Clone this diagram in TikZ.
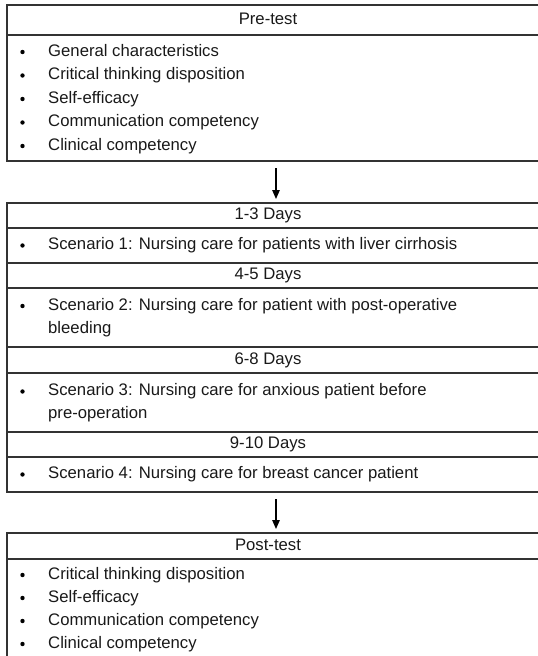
\documentclass[tikz,border=0pt]{standalone}
\usepackage{fontspec}
\setmainfont{Liberation Sans}
\usetikzlibrary{arrows.meta, positioning}
\definecolor{ruleGray}{HTML}{333333}

\begin{document}
\begin{tikzpicture}[x=1pt, y=-1pt,
  rule/.style={line width=1.2pt, draw=ruleGray},
  head/.style={font=\fontsize{16.7}{19}\selectfont, text=black!90, inner sep=0pt, text height=11.5pt, text depth=3pt},
  item/.style={head, anchor=west},
  bullet/.style={circle, fill=black, inner sep=0pt, minimum size=4.4pt},
  arrow/.style={-{Triangle[length=9pt, width=7.5pt]}, line width=1.3pt, draw=black}
]
  \useasboundingbox (0,0) rectangle (538,656);

  % Pre-test box
  \draw[rule] (538,5) -- (7,5) -- (7,161) -- (538,161);
  \draw[rule] (7,35) -- (538,35);
  \node[head] (pre) at (268,20) {Pre-test};
  \node[bullet] (b11) at (22.5,52) {};
  \node[item] (pre1) at (48,52) {General characteristics};
  \node[bullet] (b12) at (22.5,75.5) {};
  \node[item] (pre2) at (48,75.5) {Critical thinking disposition};
  \node[bullet] (b13) at (22.5,99) {};
  \node[item] (pre3) at (48,99) {Self-efficacy};
  \node[bullet] (b14) at (22.5,122.5) {};
  \node[item] (pre4) at (48,122.5) {Communication competency};
  \node[bullet] (b15) at (22.5,146) {};
  \node[item] (pre5) at (48,146) {Clinical competency};
  \coordinate (pre-south) at (276,161);

  % Intervention box
  \coordinate (days-north) at (276,203);
  \draw[rule] (538,203) -- (7,203) -- (7,492) -- (538,492);
  \draw[rule] (7,228) -- (538,228);
  \draw[rule] (7,263) -- (538,263);
  \draw[rule] (7,288) -- (538,288);
  \draw[rule] (7,347) -- (538,347);
  \draw[rule] (7,373) -- (538,373);
  \draw[rule] (7,432) -- (538,432);
  \draw[rule] (7,457) -- (538,457);
  \node[head] (day1) at (268,215.5) {1-3 Days};
  \node[bullet] (b21) at (22.5,245.5) {};
  \node[item] (sc1) at (48,245.5) {Scenario 1: Nursing care for patients with liver cirrhosis};
  \node[head] (day2) at (268,275.5) {4-5 Days};
  \node[bullet] (b22) at (22.5,306) {};
  \node[item] (sc2) at (48,306) {Scenario 2: Nursing care for patient with post-operative};
  \node[item] (sc2b) at (48,329) {bleeding};
  \node[head] (day3) at (268,360) {6-8 Days};
  \node[bullet] (b23) at (22.5,391.5) {};
  \node[item] (sc3) at (48,391.5) {Scenario 3: Nursing care for anxious patient before};
  \node[item] (sc3b) at (48,414.5) {pre-operation};
  \node[head] (day4) at (268,444.5) {9-10 Days};
  \node[bullet] (b24) at (22.5,474.5) {};
  \node[item] (sc4) at (48,474.5) {Scenario 4: Nursing care for breast cancer patient};
  \coordinate (days-south) at (276,492);

  % Post-test box
  \coordinate (post-north) at (276,533);
  \draw[rule] (538,533) -- (7,533) -- (7,656);
  \draw[rule] (7,559) -- (538,559);
  \node[head] (post) at (268,546) {Post-test};
  \node[bullet] (b31) at (22.5,575) {};
  \node[item] (post1) at (48,575) {Critical thinking disposition};
  \node[bullet] (b32) at (22.5,598) {};
  \node[item] (post2) at (48,598) {Self-efficacy};
  \node[bullet] (b33) at (22.5,621) {};
  \node[item] (post3) at (48,621) {Communication competency};
  \node[bullet] (b34) at (22.5,644) {};
  \node[item] (post4) at (48,644) {Clinical competency};

  % Arrows
  \draw[arrow, shorten <=7pt, shorten >=4pt] (pre-south) -- (days-north);
  \draw[arrow, shorten <=7pt, shorten >=4pt] (days-south) -- (post-north);
\end{tikzpicture}
\end{document}
